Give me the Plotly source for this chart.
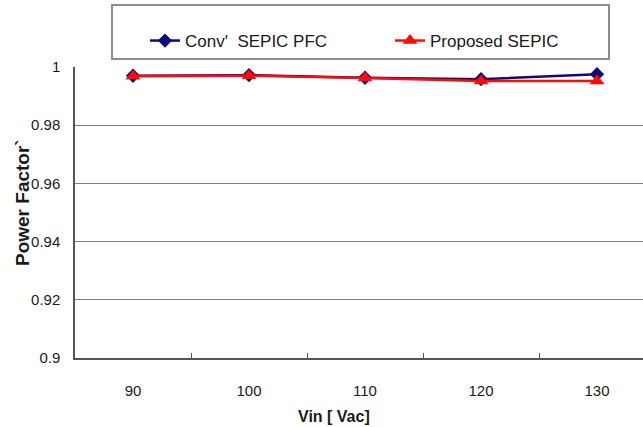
import plotly.graph_objects as go

categories = ["90", "100", "110", "120", "130"]
conv_pf = [0.9970, 0.9972, 0.9963, 0.9958, 0.9975]
proposed_pf = [0.9968, 0.9970, 0.9962, 0.9952, 0.9952]
series_names = ["Conv'  SEPIC PFC", "Proposed SEPIC"]
y_ticks = [0.9, 0.92, 0.94, 0.96, 0.98, 1.0]
y_ticklabels = ["0.9", "0.92", "0.94", "0.96", "0.98", "1"]

W, H = 643, 427
L, R, T, B = 75, 0, 67, 69
FONT = "Arial, Liberation Sans, Helvetica, sans-serif"

fig = go.Figure()
fig.add_trace(go.Scatter(
    x=categories, y=conv_pf, name=series_names[0], mode="lines+markers",
    line=dict(color="#0b0b7a", width=2.5),
    marker=dict(symbol="diamond", size=11, color="#0b0b7a"),
))
fig.add_trace(go.Scatter(
    x=categories, y=proposed_pf, name=series_names[1], mode="lines+markers",
    line=dict(color="#ff0a0a", width=2.5),
    marker=dict(symbol="triangle-up", size=13, color="#ff0a0a"),
))

def px_x(p):
    return (p - L) / (W - L - R)

def px_y(p):
    return (H - B - p) / (H - T - B)

fig.add_shape(type="rect", xref="paper", yref="paper",
              x0=px_x(112), x1=px_x(609), y0=px_y(59), y1=px_y(5),
              line=dict(color="#8c8c8c", width=2), fillcolor="white", layer="below")

fig.add_annotation(text="<b>Vin [ Vac]</b>", xref="paper", yref="paper",
                   x=px_x(334), y=px_y(416), showarrow=False,
                   xanchor="center", yanchor="middle",
                   font=dict(family=FONT, size=16, color="#1a1a1a"))
fig.add_annotation(text="<b>Power Factor`</b>", xref="paper", yref="paper",
                   x=px_x(22), y=px_y(203), showarrow=False, textangle=-90,
                   xanchor="center", yanchor="middle",
                   font=dict(family=FONT, size=19, color="#1a1a1a"))

fig.update_layout(
    width=W, height=H,
    margin=dict(l=L, r=R, t=T, b=B, pad=0),
    paper_bgcolor="white", plot_bgcolor="white",
    font=dict(family=FONT, size=15, color="#1a1a1a"),
    showlegend=True,
    legend=dict(
        orientation="h", xref="container", yref="container",
        x=145 / W, y=1 - 41 / H, xanchor="left", yanchor="middle",
        bgcolor="rgba(0,0,0,0)", borderwidth=0,
        font=dict(family=FONT, size=17, color="#1a1a1a"),
        entrywidth=200, itemwidth=30,
    ),
    xaxis=dict(
        type="category", categoryorder="array", categoryarray=categories,
        range=[-0.5, 4.5 - 12 / 116],
        tickson="boundaries", ticks="inside", ticklen=5, tickcolor="#555",
        showline=True, linecolor="#555", linewidth=1.5,
        showgrid=False, ticklabelstandoff=18,
        tickfont=dict(family=FONT, size=15, color="#1a1a1a"),
    ),
    yaxis=dict(
        range=[0.9, 1.0], tickvals=y_ticks, ticktext=y_ticklabels,
        showgrid=True, gridcolor="#7f7f7f", gridwidth=1,
        showline=True, linecolor="#555", linewidth=1.5,
        zeroline=False, ticks="", ticklabelstandoff=10,
        tickfont=dict(family=FONT, size=15, color="#1a1a1a"),
    ),
)

fig.write_html("out.html")
